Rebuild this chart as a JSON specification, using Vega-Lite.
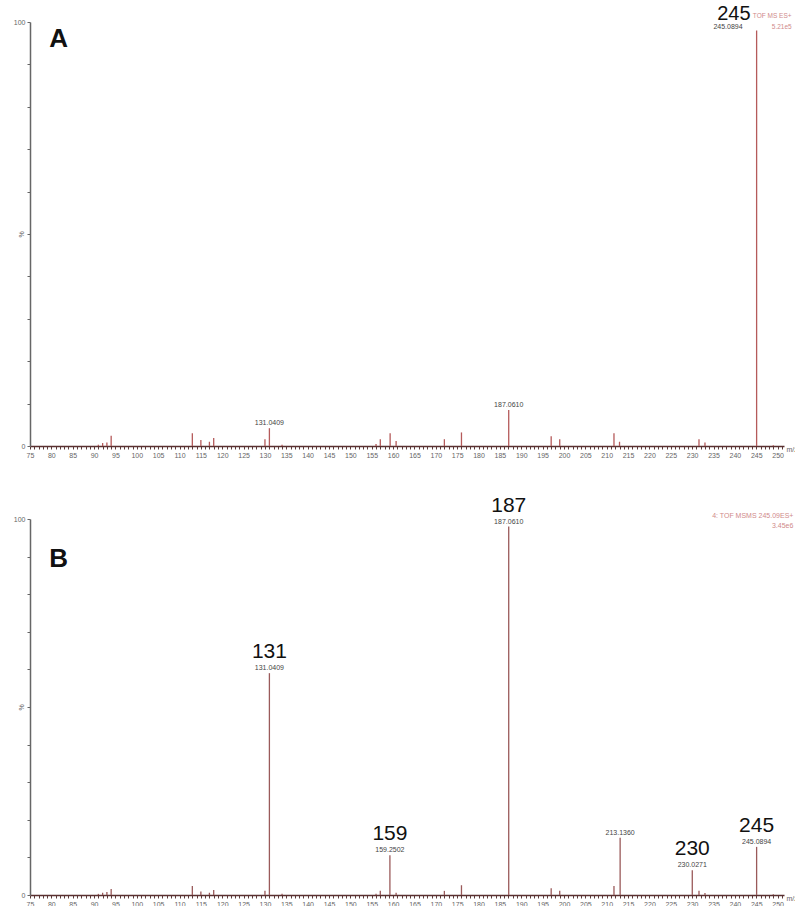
{
  "$schema": "https://vega.github.io/schema/vega-lite/v6.json",
  "background": "white",
  "padding": {"left": 13, "top": 4, "right": 0, "bottom": 0},
  "spacing": 73,
  "bounds": "flush",
  "config": {"view": {"stroke": null}, "font": "Liberation Sans"},
  "datasets": {
    "A": [
      {"mz": 91, "intensity": 0.3}, {"mz": 92, "intensity": 0.7}, {"mz": 93, "intensity": 0.8},
      {"mz": 94, "intensity": 2.4}, {"mz": 113, "intensity": 3.0}, {"mz": 115, "intensity": 1.4},
      {"mz": 117, "intensity": 1.0}, {"mz": 118, "intensity": 1.9}, {"mz": 130, "intensity": 1.6},
      {"mz": 131.04, "intensity": 4.2, "label": "131.0409"}, {"mz": 134, "intensity": 0.3},
      {"mz": 156, "intensity": 0.5}, {"mz": 157, "intensity": 1.6}, {"mz": 159.3, "intensity": 3.0},
      {"mz": 160.7, "intensity": 1.2}, {"mz": 172, "intensity": 1.6}, {"mz": 176, "intensity": 3.2},
      {"mz": 187.06, "intensity": 8.5, "label": "187.0610"}, {"mz": 197, "intensity": 2.3},
      {"mz": 199, "intensity": 1.6}, {"mz": 211.7, "intensity": 3.0}, {"mz": 213, "intensity": 1.0},
      {"mz": 231.6, "intensity": 1.6}, {"mz": 233, "intensity": 0.8},
      {"mz": 245.09, "intensity": 98, "label": "245.0894", "big": "245"}, {"mz": 249, "intensity": 0.2}
    ],
    "B": [
      {"mz": 91, "intensity": 0.3}, {"mz": 92, "intensity": 0.6}, {"mz": 93, "intensity": 0.8},
      {"mz": 94, "intensity": 1.6}, {"mz": 113, "intensity": 2.4}, {"mz": 115, "intensity": 0.9},
      {"mz": 117, "intensity": 0.6}, {"mz": 118, "intensity": 1.3}, {"mz": 130, "intensity": 1.1},
      {"mz": 131.04, "intensity": 59, "label": "131.0409", "big": "131"}, {"mz": 134, "intensity": 0.3},
      {"mz": 156, "intensity": 0.3}, {"mz": 157, "intensity": 1.1},
      {"mz": 159.25, "intensity": 10.6, "label": "159.2502", "big": "159"},
      {"mz": 160.7, "intensity": 0.6}, {"mz": 172, "intensity": 1.1}, {"mz": 176, "intensity": 2.6},
      {"mz": 187.06, "intensity": 98, "label": "187.0610", "big": "187"}, {"mz": 197, "intensity": 1.8},
      {"mz": 199, "intensity": 1.1}, {"mz": 211.7, "intensity": 2.4},
      {"mz": 213.14, "intensity": 15.2, "label": "213.1360"},
      {"mz": 230.03, "intensity": 6.6, "label": "230.0271", "big": "230"},
      {"mz": 231.6, "intensity": 1.1}, {"mz": 233, "intensity": 0.5},
      {"mz": 245.09, "intensity": 12.8, "label": "245.0894", "big": "245"}, {"mz": 249, "intensity": 0.2}
    ]
  },
  "vconcat": [
    {
      "width": 754,
      "height": 424,
      "layer": [
        {
          "data": {"name": "A"},
          "mark": {"type": "rule", "color": "#b55a5a", "strokeWidth": 1.3},
          "encoding": {
            "x": {
              "field": "mz", "type": "quantitative",
              "scale": {"domain": [75, 251.5], "nice": false, "zero": false},
              "axis": {
                "title": "m/z", "titleFontSize": 7, "titleFontWeight": "normal", "titleColor": "#666",
                "titleX": 756, "titleY": 3, "titleAlign": "left", "titleBaseline": "middle",
                "tickCount": 180, "labelExpr": "datum.value % 5 === 0 ? datum.label : ''",
                "labelOverlap": false, "labelFontSize": 7, "labelColor": "#666", "labelPadding": 2,
                "tickSize": 3, "tickColor": "#5a3a3a", "domainColor": "#5a3030", "domainWidth": 1.5,
                "grid": false, "labelFlush": false
              }
            },
            "y": {
              "field": "intensity", "type": "quantitative",
              "scale": {"domain": [0, 100], "nice": false},
              "axis": {
                "title": "%", "titleFontSize": 7, "titleFontWeight": "normal", "titleColor": "#666",
                "titleAngle": -90, "titleX": -6, "titleY": 212, "titleAlign": "center",
                "tickCount": 10, "labelExpr": "datum.value === 0 || datum.value === 100 ? datum.label : ''",
                "labelFontSize": 7, "labelColor": "#666", "labelPadding": 2, "tickSize": 3,
                "tickColor": "#666", "domainColor": "#666", "domainWidth": 1.5, "grid": false
              }
            },
            "y2": {"datum": 0}
          }
        },
        {
          "data": {"name": "A"},
          "transform": [{"filter": "isValid(datum.label) && datum.mz < 240"}],
          "mark": {"type": "text", "fontSize": 7, "color": "#444", "dy": -3, "baseline": "alphabetic"},
          "encoding": {
            "x": {"field": "mz", "type": "quantitative"},
            "y": {"field": "intensity", "type": "quantitative"},
            "text": {"field": "label"}
          }
        },
        {
          "data": {"name": "A"},
          "transform": [{"filter": "isValid(datum.label) && datum.mz >= 240"}],
          "mark": {"type": "text", "fontSize": 7, "color": "#444", "dy": -1, "dx": -14, "align": "right", "baseline": "alphabetic"},
          "encoding": {
            "x": {"field": "mz", "type": "quantitative"},
            "y": {"field": "intensity", "type": "quantitative"},
            "text": {"field": "label"}
          }
        },
        {
          "data": {"name": "A"},
          "transform": [{"filter": "isValid(datum.big)"}],
          "mark": {"type": "text", "fontSize": 20, "color": "#111", "dy": -10, "dx": -6, "align": "right", "baseline": "alphabetic"},
          "encoding": {
            "x": {"field": "mz", "type": "quantitative"},
            "y": {"field": "intensity", "type": "quantitative"},
            "text": {"field": "big"}
          }
        },
        {
          "data": {"values": [{"t": "A", "px": 79.5, "py": 94.1}]},
          "mark": {"type": "text", "fontSize": 26, "fontWeight": "bold", "color": "#111", "align": "left", "baseline": "alphabetic"},
          "encoding": {
            "x": {"field": "px", "type": "quantitative"},
            "y": {"field": "py", "type": "quantitative"},
            "text": {"field": "t"}
          }
        },
        {
          "data": {"values": [{"t": "TOF MS ES+", "px": 244.2, "py": 100.9}]},
          "mark": {"type": "text", "fontSize": 6.5, "color": "#d08a8a", "align": "left", "baseline": "alphabetic"},
          "encoding": {
            "x": {"field": "px", "type": "quantitative"},
            "y": {"field": "py", "type": "quantitative"},
            "text": {"field": "t"}
          }
        },
        {
          "data": {"values": [{"t": "5.21e5", "px": 253.3, "py": 98.4}]},
          "mark": {"type": "text", "fontSize": 6.5, "color": "#d08a8a", "align": "right", "baseline": "alphabetic"},
          "encoding": {
            "x": {"field": "px", "type": "quantitative"},
            "y": {"field": "py", "type": "quantitative"},
            "text": {"field": "t"}
          }
        }
      ]
    },
    {
      "width": 754,
      "height": 376,
      "layer": [
        {
          "data": {"name": "B"},
          "mark": {"type": "rule", "color": "#9a5a5a", "strokeWidth": 1.3},
          "encoding": {
            "x": {
              "field": "mz", "type": "quantitative",
              "scale": {"domain": [75, 251.5], "nice": false, "zero": false},
              "axis": {
                "title": "m/z", "titleFontSize": 7, "titleFontWeight": "normal", "titleColor": "#666",
                "titleX": 756, "titleY": 3, "titleAlign": "left", "titleBaseline": "middle",
                "tickCount": 180, "labelExpr": "datum.value % 5 === 0 ? datum.label : ''",
                "labelOverlap": false, "labelFontSize": 7, "labelColor": "#666", "labelPadding": 2,
                "tickSize": 3, "tickColor": "#5a3a3a", "domainColor": "#5a3030", "domainWidth": 1.5,
                "grid": false, "labelFlush": false
              }
            },
            "y": {
              "field": "intensity", "type": "quantitative",
              "scale": {"domain": [0, 100], "nice": false},
              "axis": {
                "title": "%", "titleFontSize": 7, "titleFontWeight": "normal", "titleColor": "#666",
                "titleAngle": -90, "titleX": -6, "titleY": 188, "titleAlign": "center",
                "tickCount": 10, "labelExpr": "datum.value === 0 || datum.value === 100 ? datum.label : ''",
                "labelFontSize": 7, "labelColor": "#666", "labelPadding": 2, "tickSize": 3,
                "tickColor": "#666", "domainColor": "#666", "domainWidth": 1.5, "grid": false
              }
            },
            "y2": {"datum": 0}
          }
        },
        {
          "data": {"name": "B"},
          "transform": [{"filter": "isValid(datum.label)"}],
          "mark": {"type": "text", "fontSize": 7, "color": "#444", "dy": -3, "baseline": "alphabetic"},
          "encoding": {
            "x": {"field": "mz", "type": "quantitative"},
            "y": {"field": "intensity", "type": "quantitative"},
            "text": {"field": "label"}
          }
        },
        {
          "data": {"name": "B"},
          "transform": [{"filter": "isValid(datum.big)"}],
          "mark": {"type": "text", "fontSize": 21, "color": "#111", "dy": -15, "baseline": "alphabetic"},
          "encoding": {
            "x": {"field": "mz", "type": "quantitative"},
            "y": {"field": "intensity", "type": "quantitative"},
            "text": {"field": "big"}
          }
        },
        {
          "data": {"values": [{"t": "B", "px": 79.5, "py": 87.2}]},
          "mark": {"type": "text", "fontSize": 26, "fontWeight": "bold", "color": "#111", "align": "left", "baseline": "alphabetic"},
          "encoding": {
            "x": {"field": "px", "type": "quantitative"},
            "y": {"field": "py", "type": "quantitative"},
            "text": {"field": "t"}
          }
        },
        {
          "data": {"values": [{"t": "4: TOF MSMS 245.09ES+", "px": 253.7, "py": 100.3}]},
          "mark": {"type": "text", "fontSize": 7, "color": "#d08a8a", "align": "right", "baseline": "alphabetic"},
          "encoding": {
            "x": {"field": "px", "type": "quantitative"},
            "y": {"field": "py", "type": "quantitative"},
            "text": {"field": "t"}
          }
        },
        {
          "data": {"values": [{"t": "3.45e6", "px": 253.7, "py": 97.6}]},
          "mark": {"type": "text", "fontSize": 7, "color": "#d08a8a", "align": "right", "baseline": "alphabetic"},
          "encoding": {
            "x": {"field": "px", "type": "quantitative"},
            "y": {"field": "py", "type": "quantitative"},
            "text": {"field": "t"}
          }
        }
      ]
    }
  ]
}
